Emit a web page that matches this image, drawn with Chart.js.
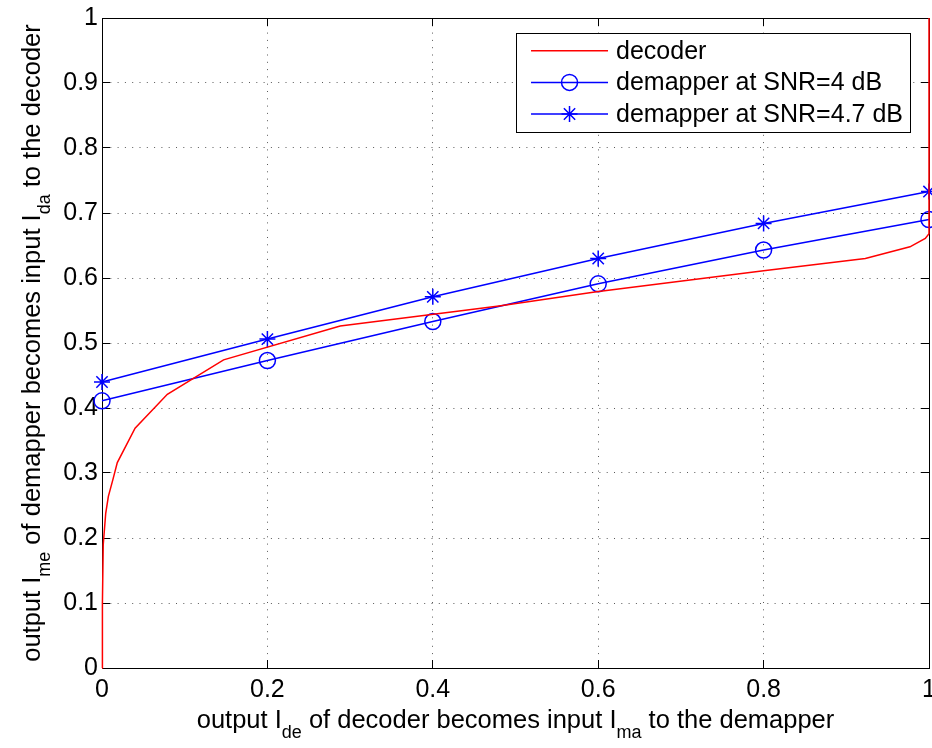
<!DOCTYPE html>
<html>
<head>
<meta charset="utf-8">
<title>EXIT chart</title>
<script src="https://cdn.jsdelivr.net/npm/chart.js@4/dist/chart.umd.min.js"></script>
<style>
  html, body { margin: 0; padding: 0; background: #fff; overflow: hidden; }
  canvas { display: block; }
</style>
</head>
<body>
<canvas id="exit" width="932" height="748"></canvas>
<script>
// Decoder transfer curve (I_de on x, I_da on y)
const decoderX = [0, 0.0005, 0.0015, 0.0045, 0.0077, 0.013, 0.0185, 0.040, 0.079, 0.147, 0.288, 0.480, 0.598, 0.800, 0.923, 0.977, 0.9955, 1, 1];
const decoderY = [0, 0.100, 0.190, 0.238, 0.264, 0.289, 0.316, 0.369, 0.421, 0.474, 0.526, 0.557, 0.579, 0.611, 0.630, 0.648, 0.661, 0.668, 1];

// Demapper transfer curves sampled at these a-priori inputs
const demapperX = [0, 0.2, 0.4, 0.6, 0.8, 1];
const demapperSnr4 = [0.411, 0.473, 0.533, 0.591, 0.643, 0.690];
const demapperSnr47 = [0.440, 0.506, 0.571, 0.630, 0.684, 0.733];

const seriesLabels = ['decoder', 'demapper at SNR=4 dB', 'demapper at SNR=4.7 dB'];

const xTickValues = [0, 0.2, 0.4, 0.6, 0.8, 1];
const xTickLabels = ['0', '0.2', '0.4', '0.6', '0.8', '1'];
const yTickValues = [0, 0.1, 0.2, 0.3, 0.4, 0.5, 0.6, 0.7, 0.8, 0.9, 1];
const yTickLabels = ['0', '0.1', '0.2', '0.3', '0.4', '0.5', '0.6', '0.7', '0.8', '0.9', '1'];

const FONT = '"Liberation Sans", Arial, Helvetica, sans-serif';
const FONT_SIZE = 25;
const TITLE_SIZE = 25.5;
const SUB_SIZE = 18;

const toPoints = (xs, ys) => xs.map((x, i) => ({ x: x, y: ys[i] }));

// Axis titles with subscripted symbols
const xTitleParts = [['output I', false], ['de', true], [' of decoder becomes input I', false], ['ma', true], [' to the demapper', false]];
const yTitleParts = [['output I', false], ['me', true], [' of demapper becomes input I', false], ['da', true], [' to the decoder', false]];

function drawRichText(ctx, parts, cx, baseline, subShift) {
  const widths = parts.map(([t, sub]) => {
    ctx.font = (sub ? SUB_SIZE : TITLE_SIZE) + 'px ' + FONT;
    return ctx.measureText(t).width;
  });
  const total = widths.reduce((a, b) => a + b, 0);
  let x = cx - total / 2;
  ctx.textBaseline = 'alphabetic';
  ctx.textAlign = 'left';
  parts.forEach(([t, sub], i) => {
    ctx.font = (sub ? SUB_SIZE : TITLE_SIZE) + 'px ' + FONT;
    ctx.fillText(t, x, baseline + (sub ? subShift : 0));
    x += widths[i];
  });
}

const axisTitles = {
  id: 'axisTitles',
  afterDraw(chart) {
    const { ctx, chartArea } = chart;
    ctx.save();
    ctx.fillStyle = '#000';
    const cx = (chartArea.left + chartArea.right) / 2;
    drawRichText(ctx, xTitleParts, cx, 728, 10);
    const cy = (chartArea.top + chartArea.bottom) / 2;
    ctx.translate(40, cy);
    ctx.rotate(-Math.PI / 2);
    drawRichText(ctx, yTitleParts, 0, 0, 10);
    ctx.restore();
  }
};

// Boxed legend inside the plot; each entry shows a line sample with its marker
const boxedLegend = {
  id: 'boxedLegend',
  afterDraw(chart, args, opts) {
    const { ctx, chartArea } = chart;
    const sets = chart.data.datasets;
    ctx.save();
    ctx.font = FONT_SIZE + 'px ' + FONT;
    const textW = Math.max(...sets.map(d => ctx.measureText(d.label).width));
    const w = opts.padLeft + opts.sample + opts.gap + textW + opts.padRight;
    const h = opts.rowH * sets.length + opts.padTop * 2 - 4;
    const right = chartArea.right - opts.marginRight;
    const left = right - w;
    const top = chartArea.top + opts.marginTop;
    ctx.fillStyle = '#fff';
    ctx.fillRect(left, top, w, h);
    ctx.strokeStyle = '#000';
    ctx.lineWidth = 1;
    ctx.strokeRect(Math.round(left) + 0.5, Math.round(top) + 0.5, Math.round(w), Math.round(h));
    sets.forEach((d, i) => {
      const y = top + opts.padTop + opts.rowH * i + opts.rowH / 2 - 2;
      const x0 = left + opts.padLeft;
      const x1 = x0 + opts.sample;
      ctx.strokeStyle = d.borderColor;
      ctx.lineWidth = d.borderWidth;
      ctx.beginPath();
      ctx.moveTo(x0, y);
      ctx.lineTo(x1, y);
      ctx.stroke();
      if (d.pointRadius > 0) {
        ctx.fillStyle = 'rgba(0,0,0,0)';
        ctx.strokeStyle = d.pointBorderColor;
        ctx.lineWidth = d.pointBorderWidth;
        Chart.helpers.drawPoint(ctx, {
          pointStyle: d.pointStyle,
          radius: d.pointRadius,
          rotation: 0,
          borderWidth: d.pointBorderWidth
        }, (x0 + x1) / 2, y);
      }
      ctx.fillStyle = '#000';
      ctx.textAlign = 'left';
      ctx.textBaseline = 'middle';
      ctx.font = FONT_SIZE + 'px ' + FONT;
      ctx.fillText(d.label, x1 + opts.gap, y + 1);
    });
    ctx.restore();
  }
};

function fixedSize(size) {
  return function (scale) {
    if (scale.isHorizontal()) scale.height = size; else scale.width = size;
    scale.paddingLeft = 0; scale.paddingRight = 0;
    scale.paddingTop = 0; scale.paddingBottom = 0;
  };
}

function setTicks(values) {
  return function (scale) { scale.ticks = values.map(v => ({ value: v })); };
}

// Dotted grid with inward tick marks on all four sides
const gridStyle = {
  color: 'rgba(0,0,0,0.65)',
  lineWidth: 1,
  tickLength: -8,
  tickColor: '#000',
  tickWidth: 1,
  tickBorderDash: []
};
const dottedBorder = { display: true, color: '#000', width: 1, dash: [1, 6.3] };
const edgeGrid = { drawOnChartArea: false, tickLength: -8, tickColor: '#000', tickWidth: 1 };
const solidBorder = { display: true, color: '#000', width: 1 };

new Chart(document.getElementById('exit'), {
  type: 'scatter',
  data: {
    datasets: [
      {
        label: seriesLabels[0],
        data: toPoints(decoderX, decoderY),
        showLine: true,
        borderColor: '#ff0000',
        borderWidth: 1.5,
        pointRadius: 0,
        pointHoverRadius: 0,
        tension: 0,
        clip: false
      },
      {
        label: seriesLabels[1],
        data: toPoints(demapperX, demapperSnr4),
        showLine: true,
        borderColor: '#0000ff',
        borderWidth: 1.5,
        pointStyle: 'circle',
        pointRadius: 8,
        pointBorderWidth: 1.5,
        pointBorderColor: '#0000ff',
        pointBackgroundColor: 'rgba(0,0,0,0)',
        tension: 0,
        clip: false
      },
      {
        label: seriesLabels[2],
        data: toPoints(demapperX, demapperSnr47),
        showLine: true,
        borderColor: '#0000ff',
        borderWidth: 1.5,
        pointStyle: 'star',
        pointRadius: 8,
        pointBorderWidth: 1.5,
        pointBorderColor: '#0000ff',
        pointBackgroundColor: 'rgba(0,0,0,0)',
        tension: 0,
        clip: false
      }
    ]
  },
  options: {
    responsive: false,
    animation: false,
    devicePixelRatio: 1,
    events: [],
    layout: { autoPadding: false, padding: { top: 18, right: 3, left: 0, bottom: 0 } },
    plugins: {
      legend: { display: false },
      tooltip: { enabled: false },
      boxedLegend: { marginRight: 19, marginTop: 15, padLeft: 15, padRight: 7, padTop: 4, rowH: 31.6, sample: 77, gap: 8 }
    },
    scales: {
      x: {
        type: 'linear', position: 'bottom', min: 0, max: 1,
        afterBuildTicks: setTicks(xTickValues),
        afterFit: fixedSize(80),
        grid: gridStyle, border: dottedBorder,
        ticks: {
          color: '#000', padding: 15, maxRotation: 0, autoSkip: false,
          font: { family: FONT, size: FONT_SIZE },
          callback: (v, i) => xTickLabels[i]
        }
      },
      y: {
        type: 'linear', position: 'left', min: 0, max: 1,
        afterBuildTicks: setTicks(yTickValues),
        afterFit: fixedSize(102),
        grid: gridStyle, border: dottedBorder,
        ticks: {
          color: '#000', padding: 12, autoSkip: false,
          font: { family: FONT, size: FONT_SIZE },
          callback: (v, i) => yTickLabels[i]
        }
      },
      xTop: {
        type: 'linear', position: 'top', min: 0, max: 1,
        afterBuildTicks: setTicks(xTickValues),
        afterFit: fixedSize(0),
        grid: edgeGrid, border: solidBorder,
        ticks: { display: false }
      },
      yRight: {
        type: 'linear', position: 'right', min: 0, max: 1,
        afterBuildTicks: setTicks(yTickValues),
        afterFit: fixedSize(0),
        grid: edgeGrid, border: solidBorder,
        ticks: { display: false }
      }
    }
  },
  plugins: [axisTitles, boxedLegend]
});
</script>
</body>
</html>
